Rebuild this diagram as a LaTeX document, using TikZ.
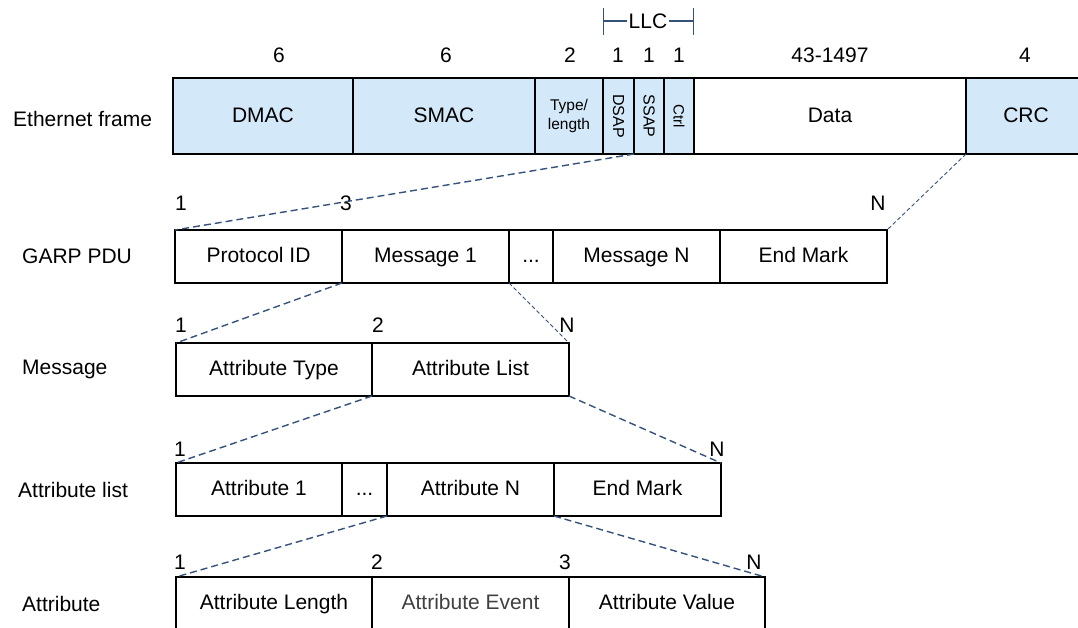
\documentclass[tikz,border=0pt]{standalone}
\usepackage{fontspec}
\setmainfont{Liberation Sans}
\usetikzlibrary{arrows.meta}

\definecolor{fieldblue}{RGB}{211,232,248}
\definecolor{linkblue}{RGB}{52,82,122}

\tikzset{
  box/.style={draw, line width=1.6pt, anchor=north west, inner sep=0pt, outer sep=0pt,
    minimum height=53pt},
  field/.style={box, font=\fontsize{21}{25}\selectfont, text height=15pt, text depth=3pt},
  topfield/.style={field, line width=2.2pt, minimum height=76pt},
  bluefield/.style={topfield, fill=fieldblue},
  smallfield/.style={box, line width=2.2pt, minimum height=76pt, fill=fieldblue,
    font=\fontsize{15.5}{19}\selectfont, align=center},
  rowname/.style={anchor=west, inner sep=0pt, font=\fontsize{21}{25}\selectfont},
  num/.style={inner sep=0pt, font=\fontsize{21}{25}\selectfont},
  zoomline/.style={linkblue, line width=1.4pt, dash pattern=on 7pt off 4pt},
  thinzoom/.style={linkblue, line width=0.9pt, dash pattern=on 4pt off 2.5pt},
}

\begin{document}
\begin{tikzpicture}[x=1pt, y=-1pt]
    \useasboundingbox (0,0) rectangle (1078,627);
    \clip (0,0) rectangle (1078,627);

    % row names
    \node[rowname] (eth)   at (13,119)  {Ethernet frame};
    \node[rowname] (garp)  at (22,256)  {GARP PDU};
    \node[rowname] (msg)   at (22,369)  {Message};
    \node[rowname] (alist) at (18,490)  {Attribute list};
    \node[rowname] (attr)  at (22,604)  {Attribute};

    % Ethernet frame, field lengths in bytes
    \node[bluefield, minimum width=180pt] (dmac) at (173,78) {DMAC};
    \node[bluefield, minimum width=182pt] (smac) at (353,78) {SMAC};
    \node[smallfield, minimum width=68pt] (type) at (535,78) {Type/\\length};
    \node[smallfield, minimum width=31pt, font=\fontsize{16}{19}\selectfont] (dsap) at (603,78) {\rotatebox{-90}{DSAP}};
    \node[smallfield, minimum width=30pt, font=\fontsize{16}{19}\selectfont] (ssap) at (634,78) {\rotatebox{-90}{SSAP}};
    \node[smallfield, minimum width=30pt, font=\fontsize{15}{19}\selectfont] (ctrl) at (664,78) {\rotatebox{-90}{Ctrl}};
    \node[topfield, minimum width=272pt] (data) at (694,78) {Data};
    \node[bluefield, minimum width=120pt] (crc) at (966,78) {CRC};

    \node[num] (w1) at (279,55) {6};
    \node[num] (w2) at (446,55) {6};
    \node[num] (w3) at (570,55) {2};
    \node[num] (w4) at (618,55) {1};
    \node[num] (w5) at (649,55) {1};
    \node[num] (w6) at (679,55) {1};
    \node[num] (w7) at (830,55) {43-1497};
    \node[num] (w8) at (1025,55) {4};

    % LLC bracket over DSAP/SSAP/Ctrl
    \node[num, inner sep=2pt] (llc) at (648,21) {LLC};
    \draw[linkblue, line width=1.3pt, -{Bar[width=27pt]}] (llc.west) -- (llc.west -| dsap.north west);
    \draw[linkblue, line width=1.3pt, -{Bar[width=27pt]}] (llc.east) -- (llc.east -| ctrl.north east);

    % GARP PDU
    \node[field, minimum width=167pt] (pid)  at (175,230) {Protocol ID};
    \node[field, minimum width=167pt] (msg1) at (342,230) {Message 1};
    \node[field, minimum width=44pt]  (mdot) at (509,230) {...};
    \node[field, minimum width=167pt] (msgn) at (553,230) {Message N};
    \node[field, minimum width=167pt] (pend) at (720,230) {End Mark};

    \node[num] (p1) at (181,203) {1};
    \node[num] (p3) at (346,203) {3};
    \node[num] (pn) at (878,203) {N};

    % Message
    \node[field, minimum width=196pt] (atype) at (176,343) {Attribute Type};
    \node[field, minimum width=197pt] (alst)  at (372,343) {Attribute List};

    \node[num] (m1) at (181,325) {1};
    \node[num] (m2) at (378,325) {2};
    \node[num] (mn) at (567,325) {N};

    % Attribute list
    \node[field, minimum width=166pt] (at1)  at (176,463) {Attribute 1};
    \node[field, minimum width=45pt]  (adot) at (342,463) {...};
    \node[field, minimum width=167pt] (atn)  at (387,463) {Attribute N};
    \node[field, minimum width=167pt] (aend) at (554,463) {End Mark};

    \node[num] (l1) at (180,449) {1};
    \node[num] (ln) at (717,449) {N};

    % Attribute
    \node[field, minimum width=196pt] (alen) at (176,577) {Attribute Length};
    \node[field, minimum width=197pt, text=black!75] (aevt) at (372,577) {Attribute Event};
    \node[field, minimum width=196pt] (aval) at (569,577) {Attribute Value};

    \node[num] (a1) at (180,562) {1};
    \node[num] (a2) at (377,562) {2};
    \node[num] (a3) at (565,562) {3};
    \node[num] (an) at (754,562) {N};

    % expansion lines
    \draw[zoomline] (ssap.south west) -- (pid.north west);
    \draw[thinzoom] (crc.south west) -- (pend.north east);
    \draw[zoomline] (msg1.south west) -- (atype.north west);
    \draw[thinzoom] (msg1.south east) -- (alst.north east);
    \draw[zoomline] (alst.south west) -- (at1.north west);
    \draw[zoomline] (alst.south east) -- (aend.north east);
    \draw[zoomline] (atn.south west) -- (alen.north west);
    \draw[zoomline] (atn.south east) -- (aval.north east);
\end{tikzpicture}
\end{document}
